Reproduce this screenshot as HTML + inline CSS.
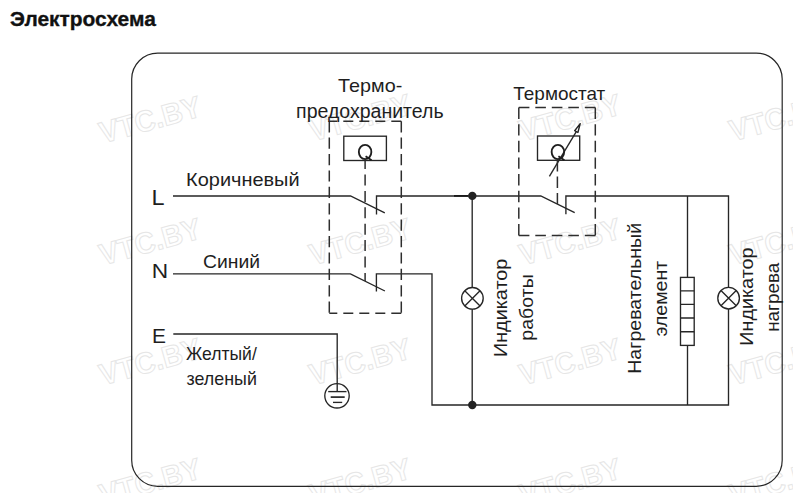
<!DOCTYPE html>
<html><head><meta charset="utf-8">
<style>
html,body{margin:0;padding:0;background:#fff;width:793px;height:493px;overflow:hidden}
svg{position:absolute;left:0;top:0}
text{font-family:"Liberation Sans",sans-serif;fill:#1e1e1e}
text[font-weight="bold"]{fill:#111;stroke:#111;stroke-width:0.35}
.wm text{font-family:"Liberation Sans",sans-serif;font-weight:bold;fill:#fff;stroke:#e6e6e6;stroke-width:1;font-size:30px}
</style></head><body>
<svg width="793" height="493" viewBox="0 0 793 493">
<!-- watermarks -->
<g class="wm">
  <text transform="translate(150,119) rotate(-15.5)" text-anchor="middle" dy="11" textLength="104" lengthAdjust="spacingAndGlyphs">VTC.BY</text>
  <text transform="translate(360,117) rotate(-15.5)" text-anchor="middle" dy="11" textLength="104" lengthAdjust="spacingAndGlyphs">VTC.BY</text>
  <text transform="translate(570,117) rotate(-15.5)" text-anchor="middle" dy="11" textLength="104" lengthAdjust="spacingAndGlyphs">VTC.BY</text>
  <text transform="translate(780,117) rotate(-15.5)" text-anchor="middle" dy="11" textLength="104" lengthAdjust="spacingAndGlyphs">VTC.BY</text>
  <text transform="translate(150,241) rotate(-15.5)" text-anchor="middle" dy="11" textLength="104" lengthAdjust="spacingAndGlyphs">VTC.BY</text>
  <text transform="translate(360,241) rotate(-15.5)" text-anchor="middle" dy="11" textLength="104" lengthAdjust="spacingAndGlyphs">VTC.BY</text>
  <text transform="translate(570,241) rotate(-15.5)" text-anchor="middle" dy="11" textLength="104" lengthAdjust="spacingAndGlyphs">VTC.BY</text>
  <text transform="translate(780,241) rotate(-15.5)" text-anchor="middle" dy="11" textLength="104" lengthAdjust="spacingAndGlyphs">VTC.BY</text>
  <text transform="translate(150,361) rotate(-15.5)" text-anchor="middle" dy="11" textLength="104" lengthAdjust="spacingAndGlyphs">VTC.BY</text>
  <text transform="translate(360,361) rotate(-15.5)" text-anchor="middle" dy="11" textLength="104" lengthAdjust="spacingAndGlyphs">VTC.BY</text>
  <text transform="translate(570,361) rotate(-15.5)" text-anchor="middle" dy="11" textLength="104" lengthAdjust="spacingAndGlyphs">VTC.BY</text>
  <text transform="translate(780,361) rotate(-15.5)" text-anchor="middle" dy="11" textLength="104" lengthAdjust="spacingAndGlyphs">VTC.BY</text>
  <text transform="translate(150,481) rotate(-15.5)" text-anchor="middle" dy="11" textLength="104" lengthAdjust="spacingAndGlyphs">VTC.BY</text>
  <text transform="translate(360,481) rotate(-15.5)" text-anchor="middle" dy="11" textLength="104" lengthAdjust="spacingAndGlyphs">VTC.BY</text>
  <text transform="translate(570,481) rotate(-15.5)" text-anchor="middle" dy="11" textLength="104" lengthAdjust="spacingAndGlyphs">VTC.BY</text>
  <text transform="translate(780,481) rotate(-15.5)" text-anchor="middle" dy="11" textLength="104" lengthAdjust="spacingAndGlyphs">VTC.BY</text>
</g>
<g fill="none" stroke="#262626" stroke-width="1.35">
  <!-- frame -->
  <rect x="131.7" y="53.1" width="650.5" height="433.2" rx="26" ry="26" stroke-width="1.2"/>
  <!-- L line & switches -->
  <polyline points="173,196 350.5,196 384.8,212.8"/>
  <polyline points="376.5,214.5 376.5,196 540.8,196 574.7,212.6"/>
  <polyline points="565.9,214.2 565.9,196 728.5,196 728.5,405 432,405 432,273.8 376.4,273.8 376.4,291.4"/>
  <!-- N line -->
  <polyline points="173,273.8 350.4,273.8 384.9,291"/>
  <!-- verticals -->
  <line x1="472.2" y1="196" x2="472.2" y2="405"/>
  <line x1="687.5" y1="196" x2="687.5" y2="405"/>
  <!-- E -->
  <polyline points="173.3,334 337.2,334 337.2,391.6"/>
  <circle cx="337" cy="395.8" r="12.2"/>
  <line x1="328.2" y1="391.6" x2="346.5" y2="391.6"/>
  <line x1="330.7" y1="397.1" x2="344.7" y2="397.1" stroke-width="1.7"/>
  <line x1="333" y1="402.4" x2="342.2" y2="402.4"/>
  <!-- lamps -->
  <circle cx="472.4" cy="298.3" r="10.8" fill="#fff"/>
  <path d="M464.76 290.66 L480.04 305.94 M480.04 290.66 L464.76 305.94"/>
  <circle cx="728.6" cy="298.2" r="10.8" fill="#fff"/>
  <path d="M720.96 290.56 L736.24 305.84 M736.24 290.56 L720.96 305.84"/>
  <!-- heater -->
  <rect x="680.5" y="277.4" width="13.7" height="68" fill="#fff"/>
  <path d="M680.5 290.8 H694.2 M680.5 304.4 H694.2 M680.5 318 H694.2 M680.5 331.7 H694.2"/>
  <!-- Q boxes -->
  <rect x="343.8" y="136.2" width="42.6" height="24.3"/>
  <rect x="537.5" y="136" width="42.2" height="24.3"/>
  <!-- thermostat arrow -->
  <line x1="549.4" y1="176.4" x2="576.3" y2="131.6"/>
</g>
<path d="M580.2 123.6 L574.7 130.7 L577.9 132.5 Z" fill="#fff" stroke="#222" stroke-width="1.4" stroke-linejoin="round"/>
<g fill="none" stroke="#2e2e2e" stroke-width="1.5">
  <path d="M329.3 121.2 V313.2 M401.3 121.2 V313.2" stroke-dasharray="11.2 5.2"/>
  <path d="M329.3 121.2 H401.3 M329.3 313.2 H401.3" stroke-dasharray="10 6" stroke-dashoffset="2"/>
  <path d="M365.1 160.6 V281" stroke-dasharray="11 5.4" stroke-dashoffset="2.5"/>
  <path d="M518.8 107.5 V235.4 M595.3 107.5 V235.4" stroke-dasharray="11.4 5.25"/>
  <path d="M518.8 107.5 H595.3 M518.8 235.4 H595.3" stroke-dasharray="10.6 5.9"/>
  <path d="M557.4 160.3 V204" stroke-dasharray="11.3 5"/>
</g>
<g fill="#222">
  <circle cx="472.3" cy="195.9" r="4.2"/>
  <circle cx="472.3" cy="405" r="4.2"/>
</g>
<g fill="none" stroke="#1e1e1e" stroke-width="1.85">
  <ellipse cx="365.1" cy="152" rx="6.25" ry="7.1"/>
  <path d="M365.6 156.3 L371.6 160.3"/>
  <ellipse cx="557.9" cy="152" rx="6.25" ry="7.1"/>
  <path d="M558.4 156.3 L564.4 160.3"/>
</g>
<line x1="454" y1="195.9" x2="468" y2="195.9" stroke="#1a1a1a" stroke-width="1.8"/>
<text x="10.00" y="25.80" font-size="21" font-weight="bold" textLength="145.83" lengthAdjust="spacingAndGlyphs">Электросхема</text>
<text x="338.10" y="91.70" font-size="19" textLength="64.17" lengthAdjust="spacingAndGlyphs">Термо-</text>
<text x="296.10" y="117.70" font-size="19.5" textLength="147.48" lengthAdjust="spacingAndGlyphs">предохранитель</text>
<text x="513.30" y="100.20" font-size="19" textLength="91.96" lengthAdjust="spacingAndGlyphs">Термостат</text>
<text x="186.10" y="186.00" font-size="19" textLength="113.50" lengthAdjust="spacingAndGlyphs">Коричневый</text>
<text x="202.98" y="267.60" font-size="19" textLength="57.00" lengthAdjust="spacingAndGlyphs">Синий</text>
<text x="151.62" y="204.80" font-size="21.5" textLength="13.03" lengthAdjust="spacingAndGlyphs">L</text>
<text x="151.76" y="277.50" font-size="20.3" textLength="16.39" lengthAdjust="spacingAndGlyphs">N</text>
<text x="151.91" y="343.40" font-size="20" textLength="13.95" lengthAdjust="spacingAndGlyphs">E</text>
<text x="186.05" y="359.80" font-size="18.5" textLength="70.75" lengthAdjust="spacingAndGlyphs">Желтый/</text>
<text x="186.56" y="384.50" font-size="19" textLength="70.35" lengthAdjust="spacingAndGlyphs">зеленый</text>
<text transform="translate(507.30,357.07) rotate(-90)" x="0" y="0" font-size="18.5" textLength="98.41" lengthAdjust="spacingAndGlyphs">Индикатор</text>
<text transform="translate(532.60,340.63) rotate(-90)" x="0" y="0" font-size="19" textLength="66.40" lengthAdjust="spacingAndGlyphs">работы</text>
<text transform="translate(640.70,373.76) rotate(-90)" x="0" y="0" font-size="19" textLength="150.87" lengthAdjust="spacingAndGlyphs">Нагревательный</text>
<text transform="translate(666.70,336.52) rotate(-90)" x="0" y="0" font-size="19" textLength="75.58" lengthAdjust="spacingAndGlyphs">элемент</text>
<text transform="translate(753.00,345.77) rotate(-90)" x="0" y="0" font-size="18.5" textLength="98.31" lengthAdjust="spacingAndGlyphs">Индикатор</text>
<text transform="translate(779.40,331.79) rotate(-90)" x="0" y="0" font-size="19" textLength="68.97" lengthAdjust="spacingAndGlyphs">нагрева</text>
</svg>
</body></html>
